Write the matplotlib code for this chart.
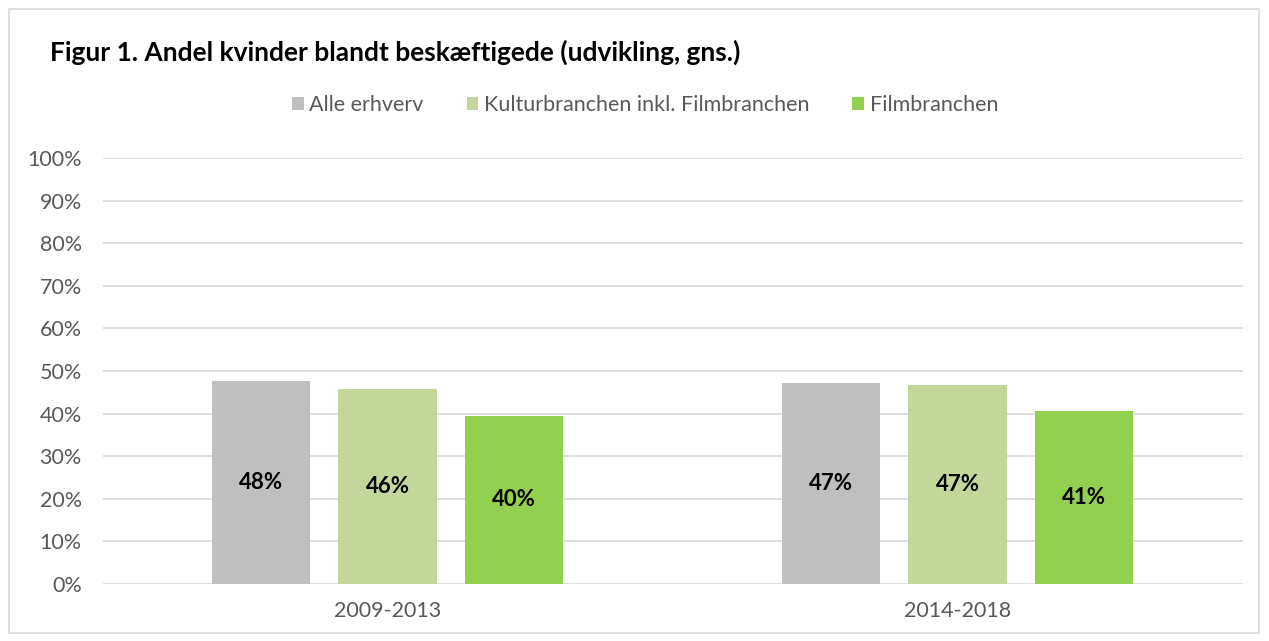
import matplotlib.pyplot as plt
import numpy as np

# data
periods = ['2009-2013', '2014-2018']
series = ['Alle erhverv', 'Kulturbranchen inkl. Filmbranchen', 'Filmbranchen']
alle = [47.6, 47.1]
kultur = [45.7, 46.6]
film = [39.5, 40.6]
colors = ['#BFBFBF', '#C4D79B', '#92D050']

plt.rcParams['font.family'] = ['Lato', 'DejaVu Sans']

fig = plt.figure(figsize=(12.69, 6.41), dpi=100)
W, H = 1269, 641
ax = fig.add_axes([102.5 / W, 1 - 584 / H, 1140 / W, (584 - 158) / H])

x = np.arange(len(periods))
width = 0.172
step = 0.222
for i, (vals, col) in enumerate(zip([alle, kultur, film], colors)):
    bars = ax.bar(x + (i - 1) * step, vals, width, color=col, label=series[i], zorder=3)
    for b, v in zip(bars, vals):
        ax.text(b.get_x() + b.get_width() / 2, v / 2, f'{v:.0f}%', ha='center', va='center',
                fontsize=16, fontweight='bold', color='black', zorder=4)

ax.set_xlim(-0.5, 1.5)
ax.set_ylim(0, 100)
ax.set_yticks(np.arange(0, 101, 10))
ax.set_yticklabels([f'{t}%' for t in range(0, 101, 10)])
ax.set_xticks(x)
ax.set_xticklabels(periods)
ax.tick_params(axis='both', length=0, labelsize=15.5, colors='#595959')
ax.tick_params(axis='y', pad=15)
ax.tick_params(axis='x', pad=12)
ax.grid(axis='y', color='#D9D9D9', linewidth=1.2, zorder=0)
for s in ax.spines.values():
    s.set_visible(False)

fig.text(50 / W, 1 - 52 / H, 'Figur 1. Andel kvinder blandt beskæftigede (udvikling, gns.)',
         fontsize=19, fontweight='bold', va='center', ha='left', color='black')

leg = fig.legend(loc='center', bbox_to_anchor=(645 / W, 1 - 105 / H), ncol=3, frameon=False,
                 fontsize=15.5, handlelength=0.55, handleheight=0.55, handletextpad=0.25,
                 columnspacing=2.0)
for t in leg.get_texts():
    t.set_color('#595959')

# outer border
fig.patches.append(plt.Rectangle((9 / W, 8 / H), (1259 - 9) / W, (632 - 8) / H,
                                 transform=fig.transFigure, fill=False,
                                 edgecolor='#D9D9D9', linewidth=1.2))

fig.savefig('out.png', dpi=100)
